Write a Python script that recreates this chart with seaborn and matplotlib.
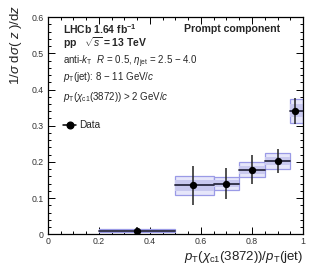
import numpy as np
import pandas as pd
import matplotlib
matplotlib.use("Agg")
import matplotlib.pyplot as plt
from matplotlib.patches import Rectangle
from matplotlib.lines import Line2D
from matplotlib.ticker import MultipleLocator, FixedFormatter, FixedLocator
import seaborn as sns

# --- data ---
bin_lo = [0.20, 0.50, 0.65, 0.75, 0.85, 0.95]
bin_hi = [0.50, 0.65, 0.75, 0.85, 0.95, 1.00]
z_pts = [0.35, 0.57, 0.70, 0.80, 0.90, 0.97]
y_vals = [0.010, 0.135, 0.140, 0.179, 0.203, 0.341]
stat_err = [0.011, 0.053, 0.042, 0.041, 0.033, 0.035]
syst_outer = [0.004, 0.026, 0.018, 0.022, 0.022, 0.034]
syst_inner = [0.002, 0.014, 0.009, 0.011, 0.011, 0.018]

x_ticks = [0, 0.2, 0.4, 0.6, 0.8, 1.0]
x_ticklabels = ["0", "0.2", "0.4", "0.6", "0.8", "1"]
y_ticks = [0, 0.1, 0.2, 0.3, 0.4, 0.5, 0.6]
y_ticklabels = ["0", "0.1", "0.2", "0.3", "0.4", "0.5", "0.6"]

df = pd.DataFrame({"lo": bin_lo, "hi": bin_hi, "z": z_pts, "y": y_vals,
                   "stat": stat_err, "sys": syst_outer, "sys_in": syst_inner})

sns.set_theme(style="ticks")
plt.rcParams['font.family'] = ['Liberation Sans', 'DejaVu Sans']
plt.rcParams['mathtext.fontset'] = 'custom'
plt.rcParams['mathtext.rm'] = 'Liberation Sans'
plt.rcParams['mathtext.it'] = 'Liberation Sans:italic'
plt.rcParams['mathtext.bf'] = 'Liberation Sans:bold'

fig = plt.figure(figsize=(3.15, 2.76), dpi=100)
ax = fig.add_axes([0.152, 0.151, 0.810, 0.787])

# systematic boxes
for _, r in df.iterrows():
    w = r.hi - r.lo
    ax.add_patch(Rectangle((r.lo, r.y - r.sys), w, 2 * r.sys,
                           facecolor="#e6e6fa", edgecolor="#9a9ae6", lw=0.9, zorder=1))
    ax.add_patch(Rectangle((r.lo, r.y - r.sys_in), w, 2 * r.sys_in,
                           facecolor="#c9c9ef", edgecolor="none", zorder=2))
    ax.plot([r.lo, r.hi], [r.y, r.y], color="#2a2a40", lw=1.3, zorder=3)

# stat error bars + points
ax.errorbar(df.z, df.y, yerr=df.stat, fmt="none", ecolor="#222222", elinewidth=1.1, zorder=4)
sns.scatterplot(data=df, x="z", y="y", ax=ax, color="black", s=28, edgecolor="black",
                linewidth=0, zorder=5, legend=False)

ax.set_xlim(0, 1)
ax.set_ylim(0, 0.6)
ax.xaxis.set_major_locator(FixedLocator(x_ticks))
ax.xaxis.set_major_formatter(FixedFormatter(x_ticklabels))
ax.yaxis.set_major_locator(FixedLocator(y_ticks))
ax.yaxis.set_major_formatter(FixedFormatter(y_ticklabels))
ax.xaxis.set_minor_locator(MultipleLocator(0.05))
ax.yaxis.set_minor_locator(MultipleLocator(0.02))
ax.tick_params(which="both", direction="in", top=True, right=True, labelsize=6.3,
               colors="black", labelcolor="#333333", width=0.7)
ax.tick_params(which="major", length=5)
ax.tick_params(which="minor", length=2.5)
ax.tick_params(axis="x", pad=2)
ax.tick_params(axis="y", pad=3)
for s in ax.spines.values():
    s.set_color("black")
    s.set_linewidth(0.9)
ax.set_xlabel("")
ax.set_ylabel("")

# axis titles (ROOT style: at the ends)
fig.text(0.050, 0.985, r"1/$\sigma$ d$\sigma$( $z$ )/d$z$", rotation=90, ha="center", va="top",
         fontsize=9.5, color="#222222")
fig.text(0.962, 0.07, r"$p_{\mathrm{T}}(\chi_{\mathrm{c1}}(3872))/p_{\mathrm{T}}$(jet)",
         ha="right", va="center", fontsize=9.5, color="#222222")

# annotations
ax.text(0.06, 0.945, r"LHCb 1.64 fb$^{\mathbf{-1}}$", transform=ax.transAxes, fontsize=7.5,
        fontweight="bold", va="center")
ax.text(0.06, 0.88, r"pp   $\sqrt{s}$ = 13 TeV", transform=ax.transAxes, fontsize=7.5,
        fontweight="bold", va="center")
ax.text(0.91, 0.945, "Prompt component", transform=ax.transAxes, fontsize=7.6,
        fontweight="bold", va="center", ha="right")
ax.text(0.06, 0.793, r"anti-$k_{\mathrm{T}}$  $R$ = 0.5, $\eta_{\mathrm{jet}}$ = 2.5 $-$ 4.0",
        transform=ax.transAxes, fontsize=7.0, va="center")
ax.text(0.06, 0.724, r"$p_{\mathrm{T}}$(jet): 8 $-$ 11 GeV/$c$",
        transform=ax.transAxes, fontsize=7.0, va="center")
ax.text(0.06, 0.631, r"$p_{\mathrm{T}}(\chi_{\mathrm{c1}}$(3872)) > 2 GeV/$c$",
        transform=ax.transAxes, fontsize=7.0, va="center")

handle = Line2D([], [], color="black", marker="o", markersize=4.8, lw=1.1)
leg = ax.legend([handle], ["Data"], loc="center left", bbox_to_anchor=(0.06, 0.502),
                frameon=False, fontsize=7.2, handlelength=1.3, handletextpad=0.3,
                borderaxespad=0, borderpad=0)

fig.savefig("out.png", dpi=100)
